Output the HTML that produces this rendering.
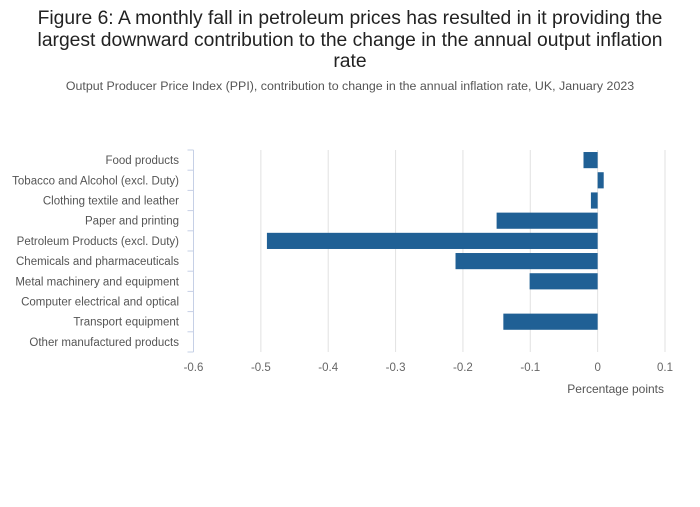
<!DOCTYPE html>
<html><head><meta charset="utf-8"><style>
body{margin:0;background:#fff;font-family:"Liberation Sans","Open Sans",sans-serif;}
svg text{font-family:"Liberation Sans",sans-serif;}
</style></head><body>
<svg id="chart" width="700" height="502" viewBox="0 0 700 502">
<text x="350" y="24" text-anchor="middle" font-size="19.3" fill="#222">Figure 6: A monthly fall in petroleum prices has resulted in it providing the</text>
<text x="350" y="46" text-anchor="middle" font-size="19.3" fill="#222">largest downward contribution to the change in the annual output inflation</text>
<text x="350" y="67" text-anchor="middle" font-size="19.3" fill="#222">rate</text>
<text x="350" y="90" text-anchor="middle" font-size="12.4" fill="#555">Output Producer Price Index (PPI), contribution to change in the annual inflation rate, UK, January 2023</text>
<g id="grid"></g><g id="bars"></g><g id="yaxis"></g><g id="xaxis"></g>
<text x="664" y="393" text-anchor="end" font-size="12" fill="#555">Percentage points</text>
</svg>
<script>
const categories=["Food products","Tobacco and Alcohol (excl. Duty)","Clothing textile and leather","Paper and printing","Petroleum Products (excl. Duty)","Chemicals and pharmaceuticals","Metal machinery and equipment","Computer electrical and optical","Transport equipment","Other manufactured products"];
const values=[-0.021,0.009,-0.01,-0.15,-0.491,-0.211,-0.101,0,-0.14,0];
const xTicks=[-0.6,-0.5,-0.4,-0.3,-0.2,-0.1,0,0.1];
const xTickLabels=["-0.6","-0.5","-0.4","-0.3","-0.2","-0.1","0","0.1"];
const NS="http://www.w3.org/2000/svg";
const x0=193.5,x1=665,xmin=-0.6,xmax=0.1,yTop=150,yBottom=352;
const xs=v=>x0+(v-xmin)/(xmax-xmin)*(x1-x0);
const band=(yBottom-yTop)/categories.length;
const ys=i=>yTop+i*band;
function mk(t,a,p){const e=document.createElementNS(NS,t);for(const k in a)e.setAttribute(k,a[k]);p.appendChild(e);return e;}
const grid=document.getElementById('grid'),bars=document.getElementById('bars'),ya=document.getElementById('yaxis'),xa=document.getElementById('xaxis');
xTicks.forEach((t,i)=>{
 if(i>0){const l=mk('line',{x1:xs(t),x2:xs(t),y1:yTop,y2:yBottom,stroke:'#e2e2e2','stroke-width':1},grid);
 
 }
 const tx=mk('text',{x:xs(t),y:371,'text-anchor':'middle','font-size':11.5,fill:'#666'},xa);tx.textContent=xTickLabels[i];
 
 
});
const ax=mk('line',{x1:x0,x2:x0,y1:yTop,y2:yBottom,stroke:'#c6d0e6','stroke-width':1},ya);


for(let i=0;i<=categories.length;i++){
 const tk=mk('line',{x1:x0-6,x2:x0,y1:ys(i),y2:ys(i),stroke:'#c6d0e6','stroke-width':1},ya);
 
 
}
categories.forEach((c,i)=>{
 const tx=mk('text',{x:179,y:ys(i)+band/2+4,'text-anchor':'end','font-size':11.5,fill:'#555'},ya);tx.textContent=c;
 
 
 const v=values[i];const a=xs(Math.min(0,v)),b=xs(Math.max(0,v));
 const r=mk('rect',{x:a,y:ys(i)+band*0.1,width:b-a,height:band*0.8,fill:'#206095'},bars);
 
 
});
</script>
</body></html>
